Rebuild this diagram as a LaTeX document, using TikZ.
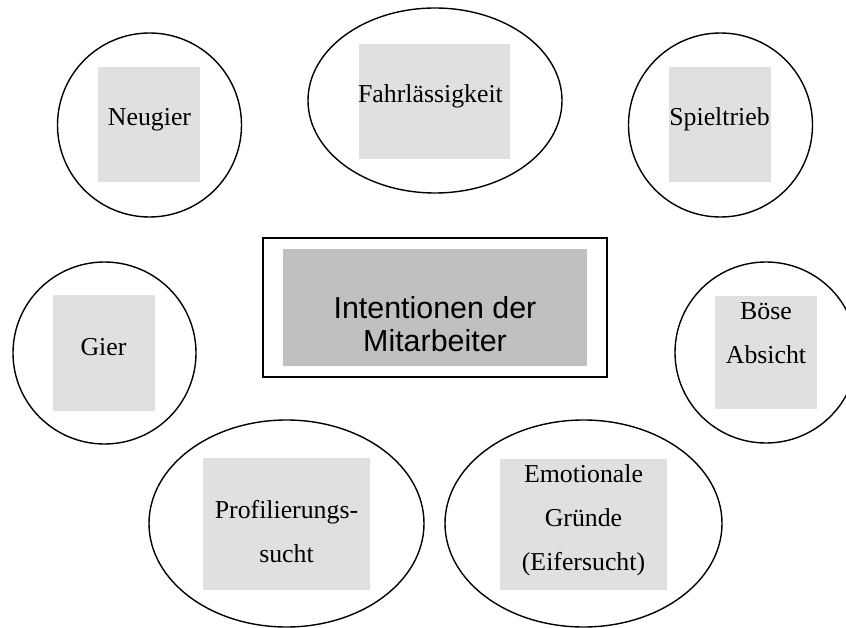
\documentclass[tikz,border=0pt]{standalone}
\usepackage{fontspec}
\setmainfont{Liberation Serif}
\newfontfamily\arialfont{Liberation Sans}
\usetikzlibrary{shapes.geometric}
\definecolor{boxgray}{HTML}{E0E0E0}
\definecolor{centergray}{HTML}{C0C0C0}
\begin{document}
\begin{tikzpicture}[x=1pt,y=-1pt]
\tikzstyle{every node}+=[inner sep=0pt]
\tikzstyle{oval}=[draw=black, ellipse, line width=1.4pt]
\tikzstyle{greybox}=[fill=boxgray, rectangle]
\tikzstyle{lbl}=[anchor=base, align=center, font=\fontsize{25.8}{44}\selectfont]
\useasboundingbox (0,0) rectangle (846,628);
% top row
\node [oval, minimum width=184pt, minimum height=184pt] (neugier) at (149.5,125) {};
\node [greybox, minimum width=102pt, minimum height=115pt] (neugierbox) at (149,124.5) {};
\node [lbl] (neugiertext) at (149.5,126) {Neugier};
\node [oval, minimum width=254pt, minimum height=185pt] (fahr) at (435,100.5) {};
\node [greybox, minimum width=151pt, minimum height=115pt] (fahrbox) at (434.5,101.5) {};
\node [lbl] (fahrtext) at (430.5,103) {Fahrlässigkeit};
\node [oval, minimum width=184pt, minimum height=184pt] (spiel) at (720.5,125) {};
\node [greybox, minimum width=102pt, minimum height=115pt] (spielbox) at (720,124.5) {};
\node [lbl] (spieltext) at (719.5,126) {Spieltrieb};
% middle row
\node [draw=black, line width=2pt, minimum width=344pt, minimum height=139pt] (intent) at (435,307.5) {};
\node [fill=centergray, minimum width=304pt, minimum height=117pt] (intentbox) at (435,307.5) {};
\node [anchor=base, align=center, font=\arialfont\fontsize{30.4}{33}\selectfont] (intenttext) at (435,352) {Intentionen der\\Mitarbeiter};
\node [oval, minimum width=183pt, minimum height=182pt] (gier) at (104.5,353) {};
\node [greybox, minimum width=102pt, minimum height=116pt] (gierbox) at (104,353) {};
\node [lbl] (giertext) at (103.5,355) {Gier};
\node [oval, minimum width=182pt, minimum height=181pt] (boese) at (766,352.5) {};
\node [greybox, minimum width=102pt, minimum height=113pt] (boesebox) at (766,352.5) {};
\node [lbl] (boesetext) at (766,363) {Böse\\Absicht};
% bottom row
\node [oval, minimum width=275pt, minimum height=207pt] (profil) at (286.5,523.5) {};
\node [greybox, minimum width=167pt, minimum height=132pt] (profilbox) at (286.5,524) {};
\node [lbl] (profiltext) at (286.5,562) {Profilierungs-\\sucht};
\node [oval, minimum width=277pt, minimum height=207pt] (emo) at (583.5,523.5) {};
\node [greybox, minimum width=167pt, minimum height=131pt] (emobox) at (583.5,524.5) {};
\node [lbl] (emotext) at (583.5,570) {Emotionale\\Gründe\\(Eifersucht)};
\end{tikzpicture}
\end{document}
